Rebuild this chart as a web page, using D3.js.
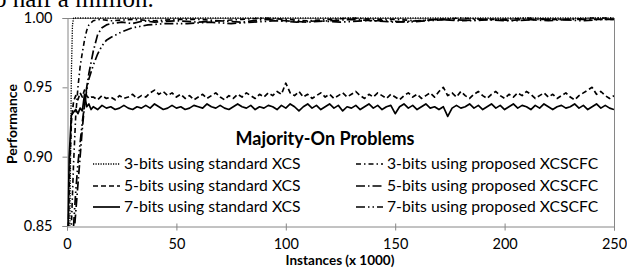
<!DOCTYPE html>
<html><head><meta charset="utf-8">
<script src="https://cdn.jsdelivr.net/npm/d3@7"></script>
<style>body{margin:0;background:#fff}svg{display:block}</style>
</head><body>
<svg id="c" width="627" height="269"></svg>
<script>
// ---- data ----
const xTicks = [0, 50, 100, 150, 200, 250];
const yTicks = [0.85, 0.90, 0.95, 1.00];
const legendLabels = ["3-bits using standard XCS", "5-bits using standard XCS", "7-bits using standard XCS",
  "3-bits using proposed XCSCFC", "5-bits using proposed XCSCFC", "7-bits using proposed XCSCFC"];

const std3X = [0, 1, 1.5, 2, 2.5, 3, 250];
const std3Y = [0.70, 0.80, 0.88, 0.96, 0.995, 1.0, 1.0];

const noisyEarlyX = [0, 1, 2, 3, 4, 5, 6, 7, 8, 9, 10, 11];
const noisyLateX = d3.range(12, 251, 2);
const std5Early = [0.78, 0.88, 0.925, 0.94, 0.944, 0.941, 0.946, 0.943, 0.948, 0.944, 0.942, 0.943];
const std5Late = [
 .943,.941,.944,.942,.943,.941,.944,.942,.943,.945,
 .942,.944,.943,.946,.948,.945,.947,.944,.946,.943,
 .945,.942,.944,.941,.943,.945,.942,.944,.946,.943,
 .941,.944,.942,.945,.943,.946,.944,.942,.945,.943,
 .946,.944,.947,.945,.953,.946,.944,.947,.943,.945,
 .942,.944,.946,.943,.945,.942,.944,.946,.943,.945,
 .947,.944,.942,.945,.943,.946,.944,.942,.945,.943,
 .941,.944,.946,.943,.945,.942,.944,.946,.943,.947,
 .950,.944,.946,.943,.947,.944,.942,.945,.947,.944,
 .942,.945,.947,.944,.942,.945,.943,.946,.944,.947,
 .945,.942,.944,.946,.943,.945,.942,.944,.946,.943,
 .941,.944,.946,.948,.950,.945,.947,.944,.942,.944];
const std7Early = [0.80, 0.90, 0.93, 0.932, 0.934, 0.931, 0.935, 0.933, 0.945, 0.936, 0.938, 0.934];
const std7Late = [
 .936,.934,.937,.935,.936,.934,.935,.937,.935,.934,
 .936,.935,.937,.935,.938,.936,.934,.935,.937,.935,
 .936,.934,.935,.937,.936,.935,.938,.936,.935,.937,
 .935,.934,.936,.938,.936,.935,.937,.934,.936,.935,
 .937,.936,.934,.937,.935,.938,.936,.933,.936,.938,
 .935,.937,.934,.936,.938,.935,.937,.933,.936,.935,
 .937,.934,.936,.938,.935,.937,.934,.936,.937,.931,
 .936,.938,.935,.937,.934,.936,.938,.935,.936,.934,
 .936,.929,.935,.937,.935,.936,.938,.935,.937,.934,
 .936,.938,.935,.937,.934,.936,.938,.935,.937,.936,
 .934,.937,.935,.938,.936,.934,.936,.937,.935,.936,
 .938,.935,.937,.934,.936,.938,.935,.937,.935,.934];

const prop3X = [1.5, 2, 3, 4, 5, 6, 7, 8, 9, 10, 12, 15, 20, 30, 40, 50, 60, 70, 80, 90, 100, 110, 120, 130, 140, 150, 160, 170, 180, 190, 200, 210, 220, 230, 240, 250];
const prop3Y = [0.80, 0.85, 0.895, 0.93, 0.95, 0.965, 0.975, 0.984, 0.991, 0.995, 0.998, 0.999, 0.998, 0.999, 0.998, 0.999, 0.999, 0.998, 0.999, 1.0, 0.999, 0.998, 0.999, 1.0, 0.999, 0.999, 0.998, 0.999, 1.0, 0.999, 0.999, 1.0, 0.999, 0.999, 1.0, 1.0];
const prop5X = [3, 4, 5, 6, 7, 8, 9, 10, 11, 12, 14, 16, 18, 20, 25, 30, 35, 40, 50, 60, 70, 80, 90, 100, 110, 120, 130, 140, 150, 160, 170, 180, 190, 200, 210, 220, 230, 240, 250];
const prop5Y = [0.84, 0.86, 0.88, 0.90, 0.92, 0.937, 0.95, 0.96, 0.968, 0.976, 0.988, 0.993, 0.995, 0.996, 0.997, 0.996, 0.998, 0.997, 0.998, 0.997, 0.998, 0.997, 0.999, 0.998, 0.997, 0.998, 0.999, 0.998, 0.997, 0.998, 0.999, 0.998, 0.999, 0.998, 0.999, 0.998, 0.999, 0.999, 0.999];
const prop7X = [3, 4, 5, 6, 7, 8, 9, 10, 12, 14, 16, 18, 20, 25, 30, 37, 45, 55, 65, 75, 85, 95, 105, 115, 125, 135, 145, 155, 165, 175, 185, 195, 205, 215, 225, 235, 245, 250];
const prop7Y = [0.85, 0.875, 0.895, 0.91, 0.925, 0.937, 0.948, 0.956, 0.966, 0.974, 0.98, 0.984, 0.986, 0.99, 0.993, 0.995, 0.996, 0.996, 0.997, 0.996, 0.997, 0.998, 0.997, 0.998, 0.997, 0.998, 0.998, 0.997, 0.998, 0.999, 0.998, 0.999, 0.998, 0.999, 0.999, 0.998, 0.999, 0.999];

// ---- build ----
const zip = (xs, ys) => xs.map((x, i) => ({x, y: ys[i]}));
const series = [
  {pts: zip(std3X, std3Y), dash: "1.2,1.3", w: 1.3},
  {pts: zip(noisyEarlyX.concat(noisyLateX), std5Early.concat(std5Late)), dash: "5,3", w: 1.7},
  {pts: zip(noisyEarlyX.concat(noisyLateX), std7Early.concat(std7Late)), dash: null, w: 1.7},
  {pts: zip(prop3X, prop3Y), dash: "5,3,1.5,3", w: 1.6},
  {pts: zip(prop5X, prop5Y), dash: "9,3,1.5,3", w: 1.7},
  {pts: zip(prop7X, prop7Y), dash: "9,3,1.5,3,1.5,3", w: 1.7}
];

const svg = d3.select("#c");
const M = {l: 67, r: 614, t: 18, b: 226};
const x = d3.scaleLinear().domain([0, 250]).range([M.l, M.r]);
const y = d3.scaleLinear().domain([0.85, 1.0]).range([M.b, M.t]);
const font = "Lato, 'Open Sans', sans-serif";

// cropped caption from page above
svg.append("text").attr("x", -6).attr("y", 7).attr("font-family", "'Liberation Serif', serif")
  .attr("font-size", 25).attr("fill", "#000").text("o half a million.");

svg.append("defs").append("clipPath").attr("id", "clip").append("rect")
  .attr("x", M.l).attr("y", M.t - 2).attr("width", M.r - M.l).attr("height", M.b - M.t + 2);

const axisCol = "#868686";
svg.append("line").attr("x1", M.l).attr("x2", M.r).attr("y1", M.t + 0.5).attr("y2", M.t + 0.5).attr("stroke", axisCol);
svg.append("line").attr("x1", M.r + 0.5).attr("x2", M.r + 0.5).attr("y1", M.t).attr("y2", M.b).attr("stroke", axisCol);

const yAxis = svg.append("g").attr("transform", `translate(${M.l + 0.5},0)`)
  .call(d3.axisLeft(y).tickValues(yTicks).tickFormat(d3.format(".2f")).tickSize(5).tickPadding(10));
const xAxis = svg.append("g").attr("transform", `translate(0,${M.b + 0.5})`)
  .call(d3.axisBottom(x).tickValues(xTicks).tickSize(4).tickPadding(8));
[yAxis, xAxis].forEach(g => {
  g.select(".domain").attr("stroke", axisCol);
  g.selectAll(".tick line").attr("stroke", axisCol);
  g.selectAll("text").attr("font-family", font).attr("font-size", 14.5).attr("fill", "#000");
});
xAxis.selectAll(".tick line").attr("y1", -3);

const line = d3.line().x(d => x(d.x)).y(d => y(d.y));
const plot = svg.append("g").attr("clip-path", "url(#clip)");
series.forEach(s => {
  plot.append("path").attr("d", line(s.pts)).attr("fill", "none").attr("stroke", "#000")
    .attr("stroke-width", s.w).attr("stroke-dasharray", s.dash).attr("stroke-linejoin", "round");
});

// axis titles
svg.append("text").attr("x", 340).attr("y", 265).attr("text-anchor", "middle")
  .attr("font-family", font).attr("font-weight", "bold").attr("font-size", 13.5).text("Instances (x 1000)");
svg.append("text").attr("transform", "translate(17,124) rotate(-90)").attr("text-anchor", "middle")
  .attr("font-family", font).attr("font-weight", "bold").attr("font-size", 14).text("Performance");

// legend
svg.append("text").attr("x", 325).attr("y", 145).attr("text-anchor", "middle")
  .attr("font-family", font).attr("font-weight", "bold").attr("font-size", 18).text("Majority-On Problems");
const rowsY = [169, 191, 212];
legendLabels.forEach((lab, i) => {
  const col = Math.floor(i / 3), r = i % 3;
  const lx = col === 0 ? 93 : 356, tx = col === 0 ? 124 : 387;
  const ly = rowsY[r] - 5;
  svg.append("line").attr("x1", lx).attr("x2", lx + 27).attr("y1", ly).attr("y2", ly)
    .attr("stroke", "#000").attr("stroke-width", series[i].w).attr("stroke-dasharray", series[i].dash);
  svg.append("text").attr("x", tx).attr("y", rowsY[r]).attr("font-family", font).attr("font-size", 15.7)
    .attr("fill", "#000").text(lab);
});
</script>
</body></html>
